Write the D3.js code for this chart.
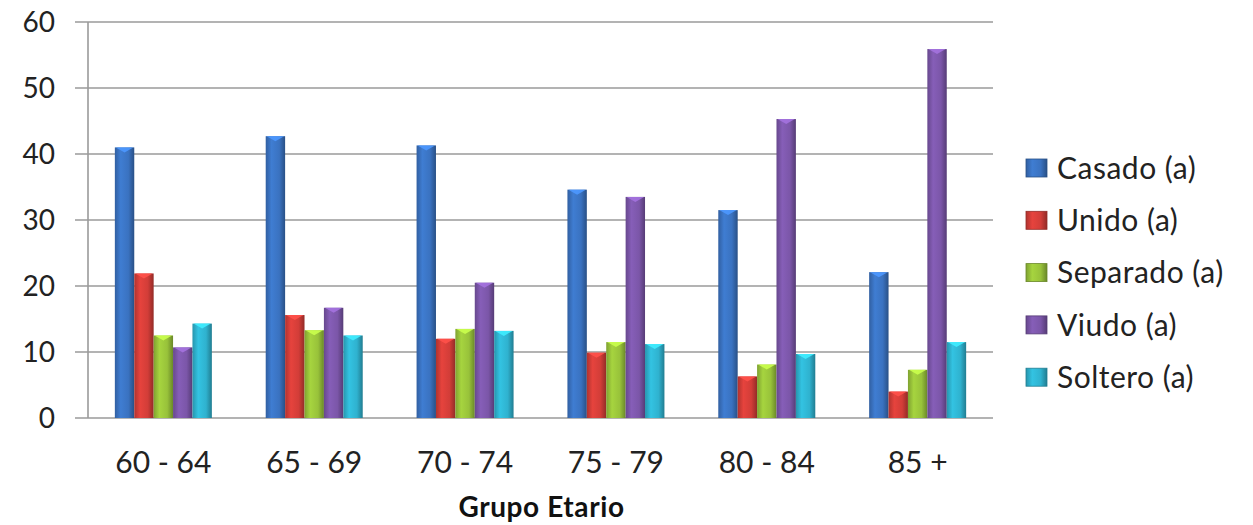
<!DOCTYPE html>
<html><head><meta charset="utf-8">
<script src="https://cdn.jsdelivr.net/npm/d3@7"></script>
<style>body{margin:0;background:#fff}svg{display:block}</style>
</head><body>
<svg id="c" width="1253" height="525"></svg>
<script>
const categories = ["60 - 64","65 - 69","70 - 74","75 - 79","80 - 84","85 +"];
const seriesNames = ["Casado (a)","Unido (a)","Separado (a)","Viudo (a)","Soltero (a)"];
const casado   = [41.0, 42.7, 41.3, 34.6, 31.5, 22.1];
const unido    = [21.9, 15.6, 12.0,  9.9,  6.3,  4.0];
const separado = [12.5, 13.3, 13.5, 11.5,  8.1,  7.3];
const viudo    = [10.7, 16.7, 20.5, 33.5, 45.3, 55.9];
const soltero  = [14.3, 12.5, 13.2, 11.2,  9.7, 11.5];
const yTicks = [0,10,20,30,40,50,60];
const xTitle = "Grupo Etario";
const colors = ["#3a72c0","#d23d38","#98c23a","#7b56a8","#2fb2cf"];

const seriesValues = [casado, unido, separado, viudo, soltero];
const svg = d3.select("#c");
const L = 88, R = 993, T = 22, B = 418;
const font = "Lato, 'Open Sans', sans-serif";

const x = d3.scaleBand().domain(categories).range([L, R]).paddingInner(0.357).paddingOuter(0.178);
const xs = d3.scaleBand().domain(seriesNames).range([0, x.bandwidth()]);
const y = d3.scaleLinear().domain([0, 60]).range([B, T]);

// gradients
const defs = svg.append("defs");
colors.forEach((c, i) => {
  const g = defs.append("linearGradient").attr("id", "g" + i).attr("x1", 0).attr("x2", 1).attr("y1", 0).attr("y2", 0);
  const base = d3.color(c);
  g.append("stop").attr("offset", "0%").attr("stop-color", base.darker(0.5));
  g.append("stop").attr("offset", "30%").attr("stop-color", base.brighter(0.25));
  g.append("stop").attr("offset", "70%").attr("stop-color", base);
  g.append("stop").attr("offset", "100%").attr("stop-color", base.darker(1.0));
});

// gridlines
svg.append("g").selectAll("line").data(yTicks).join("line")
  .attr("x1", L - 13).attr("x2", R).attr("y1", d => y(d)).attr("y2", d => y(d))
  .attr("stroke", "#9a9a9a").attr("stroke-width", 1.6);
svg.append("line").attr("x1", L).attr("x2", L).attr("y1", T).attr("y2", B)
  .attr("stroke", "#9a9a9a").attr("stroke-width", 1.6);

// y labels
svg.append("g").selectAll("text").data(yTicks).join("text")
  .attr("x", 55).attr("y", d => y(d)).attr("dy", "0.36em").attr("text-anchor", "end")
  .attr("font-family", font).attr("font-size", 28).attr("fill", "#222").text(d => d);

// bars
const groups = svg.append("g").selectAll("g").data(categories).join("g")
  .attr("transform", d => `translate(${x(d)},0)`);
groups.each(function(cat, ci) {
  const g = d3.select(this);
  seriesNames.forEach((s, si) => {
    const v = seriesValues[si][ci];
    const bx = xs(s), bw = xs.bandwidth(), by = y(v);
    g.append("rect").attr("x", bx).attr("y", by).attr("width", bw).attr("height", B - by)
      .attr("fill", `url(#g${si})`);
    const c = d3.color(colors[si]).brighter(0.8);
    g.append("path")
      .attr("d", `M${bx+1},${by} L${bx+bw-1},${by} L${bx+bw/2},${by+5} Z`)
      .attr("fill", c).attr("opacity", 0.9);
  });
});

// x labels
svg.append("g").selectAll("text").data(categories).join("text")
  .attr("x", d => x(d) + x.bandwidth() / 2).attr("y", 462).attr("dy", "0.36em")
  .attr("text-anchor", "middle").attr("font-family", font).attr("font-size", 30)
  .attr("fill", "#222").text(d => d);

svg.append("text").attr("x", (L + R) / 2 + 1).attr("y", 517)
  .attr("text-anchor", "middle").attr("font-family", font).attr("font-size", 28)
  .attr("letter-spacing", 0.6)
  .attr("font-weight", "bold").attr("fill", "#111").text(xTitle);

// legend
const leg = svg.append("g").selectAll("g").data(seriesNames).join("g")
  .attr("transform", (d, i) => `translate(1026,${168 + i * 52.3})`);
leg.append("rect").attr("x", 0).attr("y", -9).attr("width", 21).attr("height", 18)
  .attr("fill", (d, i) => `url(#g${i})`).attr("stroke", (d, i) => d3.color(colors[i]).darker(1)).attr("stroke-width", 0.8);
leg.append("text").attr("x", 31).attr("y", 0).attr("dy", "0.36em")
  .attr("font-family", font).attr("font-size", 30).attr("letter-spacing", 0.5)
  .attr("fill", "#222").text(d => d);
</script>
</body></html>
